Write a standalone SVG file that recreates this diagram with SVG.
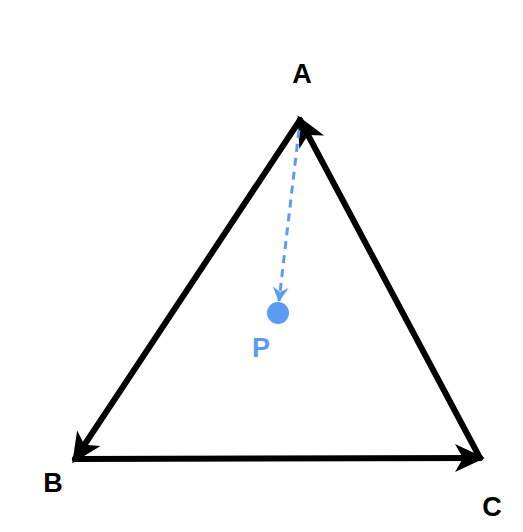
<svg xmlns="http://www.w3.org/2000/svg" width="523" height="532" viewBox="0 0 523 532">
<style>
.edge{fill:none;stroke:#000;stroke-width:6;stroke-linecap:round}
.lbl{font-family:"Liberation Sans",Arial,sans-serif;font-weight:bold;font-size:27px;text-anchor:middle;fill:#000}
.blue{fill:#5b9cf0}
</style>
<defs>
<marker id="ah" markerUnits="userSpaceOnUse" viewBox="-32 -16 36 32" refX="-3" refY="0" markerWidth="36" markerHeight="32" orient="auto">
<path d="M2,0 L-28,-14 L-20,0 L-28,14 Z" fill="#000"/>
</marker>
<marker id="ahb" markerUnits="userSpaceOnUse" viewBox="-16 -9 18 18" refX="0" refY="0" markerWidth="18" markerHeight="18" orient="auto">
<path d="M1,0 L-14,-8 L-9,0 L-14,8 Z" fill="#5b9cf0"/>
</marker>
</defs>
<g id="connectors">
<path class="edge" d="M300,120 L75,459" marker-end="url(#ah)"/>
<path class="edge" d="M75,459 L480,458" marker-end="url(#ah)"/>
<path class="edge" d="M480,458 L300,120" marker-end="url(#ah)"/>
<path d="M299,130 L279,301" fill="none" stroke="#5b9cf0" stroke-width="3" stroke-dasharray="8,6" marker-end="url(#ahb)"/>
</g>
<g id="A"><text class="lbl" x="302" y="83">A</text></g>
<g id="B"><text class="lbl" x="53" y="492">B</text></g>
<g id="C"><text class="lbl" x="492" y="516">C</text></g>
<g id="P"><circle class="blue" cx="278" cy="313" r="11"/><text class="lbl" x="261" y="357" style="fill:#5b9cf0">P</text></g>
</svg>
